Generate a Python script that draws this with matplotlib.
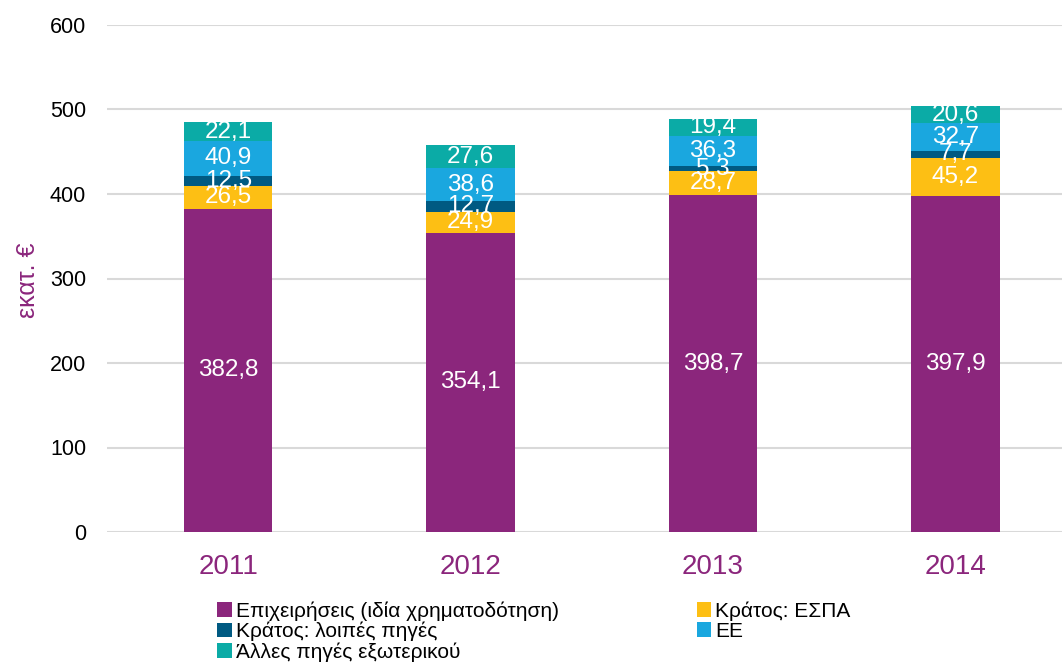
import matplotlib
matplotlib.use("Agg")
import matplotlib.pyplot as plt
import numpy as np

years = ["2011", "2012", "2013", "2014"]
series_names = ["Επιχειρήσεις (ιδία χρηματοδότηση)", "Κράτος: ΕΣΠΑ",
                "Κράτος: λοιπές πηγές", "ΕΕ", "Άλλες πηγές εξωτερικού"]
business = [382.8, 354.1, 398.7, 397.9]
espa = [26.5, 24.9, 28.7, 45.2]
state_other = [12.5, 12.7, 5.3, 7.7]
eu = [40.9, 38.6, 36.3, 32.7]
abroad = [22.1, 27.6, 19.4, 20.6]
colors = ["#8B267C", "#FDBF14", "#005A82", "#1AA7DF", "#0BABA6"]

plt.rcParams['font.family'] = ['Liberation Sans', 'DejaVu Sans']
fig = plt.figure(figsize=(10.62, 6.64), dpi=100)
ax = fig.add_axes([107/1062, 1-532/664, (1062-107)/1062, (532-25)/664])

x = np.arange(len(years))
bottom = np.zeros(len(years))
handles = []
for vals, col, name in zip([business, espa, state_other, eu, abroad], colors, series_names):
    v = np.array(vals)
    b = ax.bar(x, v, 0.365, bottom=bottom, color=col, label=name, zorder=3)
    handles.append(b)
    for xi, yi, bi in zip(x, v, bottom):
        ax.text(xi, bi + yi / 2, f"{yi:.1f}".replace(".", ","), ha="center", va="center",
                color="white", fontsize=17.5, zorder=4)
    bottom += v

ax.set_ylim(0, 600)
ax.set_xlim(-0.5, 3.44)
ax.set_yticks(range(0, 601, 100))
ax.set_xticks(x)
ax.set_xticklabels(years, color="#8B267C", fontsize=20)
ax.tick_params(axis="y", labelsize=15.5, length=0, pad=15)
ax.tick_params(axis="x", length=0, pad=16)
ax.yaxis.grid(True, color="#D9D9D9", linewidth=1.5, zorder=0)
for s in ax.spines.values():
    s.set_visible(False)
fig.text(28/1062, 1-280/664, "εκατ. €", color="#8B267C", fontsize=18,
         rotation=90, ha="center", va="center")

order = [0, 2, 4, 1, 3]
fig.legend(handles=[handles[i] for i in order], labels=[series_names[i] for i in order],
           ncol=2, loc="upper left",
           bbox_to_anchor=(207/1062, 1-591/664), frameon=False, fontsize=15,
           handlelength=0.7, handleheight=0.7, handletextpad=0.2,
           labelspacing=0.05, columnspacing=6.6, borderpad=0)

fig.savefig("out.png", dpi=100)
